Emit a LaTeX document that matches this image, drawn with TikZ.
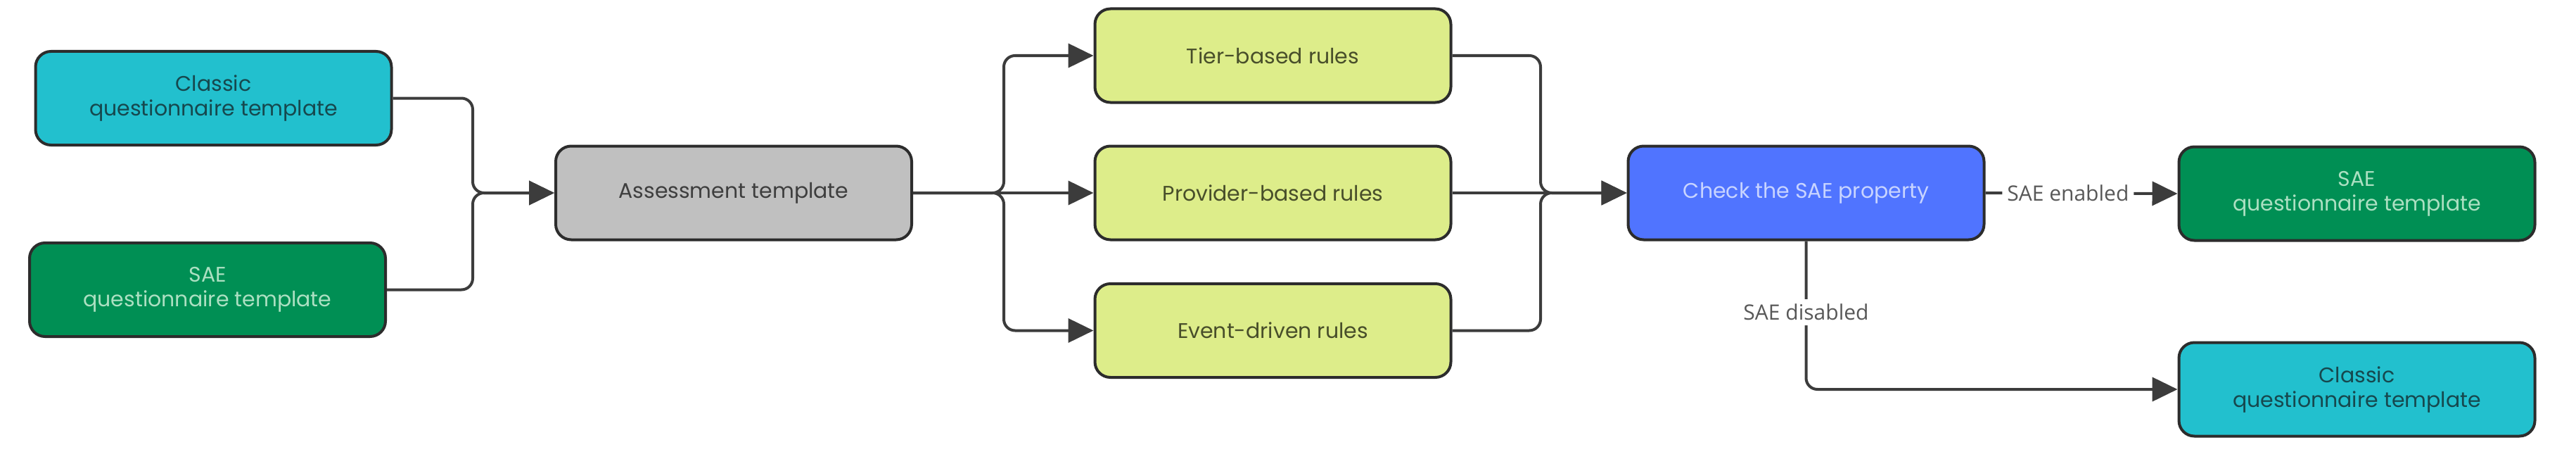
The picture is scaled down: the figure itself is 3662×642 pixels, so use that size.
\documentclass[tikz,border=0pt]{standalone}
\usepackage{fontspec}
\setmainfont{Poppins}
\newfontfamily\labelfont{Open Sans}
\usetikzlibrary{arrows.meta}
\definecolor{cyanfill}{RGB}{34,192,206}
\definecolor{cyantext}{RGB}{22,72,78}
\definecolor{greenfill}{RGB}{0,143,84}
\definecolor{greentext}{RGB}{172,224,194}
\definecolor{grayfill}{RGB}{192,192,192}
\definecolor{graytext}{RGB}{62,62,62}
\definecolor{limefill}{RGB}{221,237,138}
\definecolor{limetext}{RGB}{72,78,42}
\definecolor{bluefill}{RGB}{80,116,255}
\definecolor{bluetext}{RGB}{200,212,255}
\definecolor{edge}{RGB}{44,44,44}
\definecolor{conncol}{RGB}{60,60,60}
\definecolor{lbltext}{RGB}{88,88,88}
\tikzset{
  box/.style={draw=edge, line width=4pt, rounded corners=22pt,
    minimum width=506pt, minimum height=133pt, align=center, inner sep=0pt,
    font=\fontsize{30}{35}\selectfont},
  classicbox/.style={box, fill=cyanfill, text=cyantext},
  saebox/.style={box, fill=greenfill, text=greentext},
  assessbox/.style={box, fill=grayfill, text=graytext},
  rulebox/.style={box, fill=limefill, text=limetext},
  checkbox/.style={box, fill=bluefill, text=bluetext},
  conn/.style={draw=conncol, line width=4pt, rounded corners=16pt,
    -{Triangle[length=36pt,width=34pt]}},
  plainconn/.style={draw=conncol, line width=4pt, rounded corners=16pt},
  edgelabel/.style={fill=white, text=lbltext, inner sep=7pt,
    font=\labelfont\fontsize{30}{34}\selectfont}
}
\begin{document}
\begin{tikzpicture}[x=1pt, y=-1pt]
\useasboundingbox (0,0) rectangle (3662,642);
% nodes
\node[classicbox] (cl) at (303.5,139.5) {Classic\\questionnaire template};
\node[saebox] (sl) at (295,411.5) {SAE\\questionnaire template};
\node[assessbox] (as) at (1043,274) {Assessment template};
\node[rulebox] (tier) at (1809.5,79) {Tier-based rules};
\node[rulebox] (prov) at (1809.5,274) {Provider-based rules};
\node[rulebox] (event) at (1809.5,469.5) {Event-driven rules};
\node[checkbox] (check) at (2567.5,274) {Check the SAE property};
\node[saebox] (sr) at (3350.5,275) {SAE\\questionnaire template};
\node[classicbox] (cr) at (3350.5,553) {Classic\\questionnaire template};
% junction coordinates
\coordinate (jl) at (672,274);
\coordinate (jb) at (1427,274);
\coordinate (jr) at (2190,274);
% connectors
\draw[conn] (cl.east) -| (jl) -- (as.west);
\draw[conn] (sl.east) -| (jl) -- (as.west);
\draw[conn] (as.east) -- (jb) |- (tier.west);
\draw[conn] (as.east) -- (prov.west);
\draw[conn] (as.east) -- (jb) |- (event.west);
\draw[conn] (tier.east) -| (jr) -- (check.west);
\draw[conn] (prov.east) -- (check.west);
\draw[conn] (event.east) -| (jr) -- (check.west);
\draw[conn] (check.east) -- node[edgelabel, pos=0.43] {SAE enabled} (sr.west);
\draw[conn] (check.south) |- node[edgelabel, pos=0.24] {SAE disabled} (cr.west);
\end{tikzpicture}
\end{document}
